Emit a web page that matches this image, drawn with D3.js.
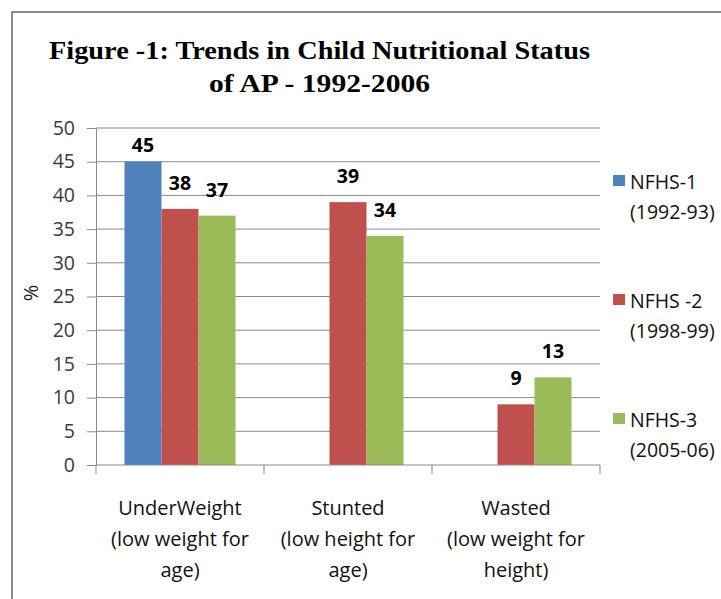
<!DOCTYPE html>
<html>
<head>
<meta charset="utf-8">
<script src="https://cdn.jsdelivr.net/npm/d3@7"></script>
<style>
  html, body { margin: 0; padding: 0; background: #fff; }
  svg { display: block; }
</style>
</head>
<body>
<svg id="chart" width="721" height="599"></svg>
<script>
// ---- data ----
const categories = ["UnderWeight", "Stunted", "Wasted"];
const categoryLabels = [
  ["UnderWeight", "(low weight for", "age)"],
  ["Stunted", "(low height for", "age)"],
  ["Wasted", "(low weight for", "height)"]
];
const seriesNames = ["NFHS-1", "NFHS-2", "NFHS-3"];
const seriesLegend = [
  ["NFHS-1", "(1992-93)"],
  ["NFHS -2", "(1998-99)"],
  ["NFHS-3", "(2005-06)"]
];
const nfhs1 = [45, null, null];
const nfhs2 = [38, 39, 9];
const nfhs3 = [37, 34, 13];
const yTicks = [0, 5, 10, 15, 20, 25, 30, 35, 40, 45, 50];
const titleLines = ["Figure -1: Trends in Child Nutritional Status", "of AP - 1992-2006"];
const yLabel = "%";

// ---- styles / layout ----
const colors = ["#4F81BD", "#C0504D", "#9BBB59"];
const plot = { left: 96, right: 600, top: 128, bottom: 465 };
const gridColor = "#8a8a8a";
const sans = "'Open Sans', 'Noto Sans', sans-serif";

const svg = d3.select("#chart");

// outer frame
svg.append("rect")
  .attr("x", 12).attr("y", 12)
  .attr("width", 740).attr("height", 620)
  .attr("fill", "none").attr("stroke", "#8c8c8c").attr("stroke-width", 2);

// title
const titleSpec = [
  { x: 49, y: 59, len: 541 },
  { x: 209, y: 92, len: 221 }
];
titleLines.forEach((t, i) => {
  svg.append("text")
    .attr("x", titleSpec[i].x).attr("y", titleSpec[i].y)
    .attr("textLength", titleSpec[i].len)
    .attr("lengthAdjust", "spacingAndGlyphs")
    .attr("font-family", "'Liberation Serif', 'DejaVu Serif', serif")
    .attr("font-weight", "bold")
    .attr("font-size", 25)
    .attr("fill", "#000")
    .text(t);
});

// scales
const y = d3.scaleLinear().domain([0, 50]).range([plot.bottom, plot.top]);
const x0 = d3.scaleBand().domain(categories).range([plot.left, plot.right]).padding(0);
const x1 = d3.scaleBand().domain(seriesNames).range([0, x0.bandwidth()])
  .paddingInner(0).paddingOuter(0.77);

// gridlines
svg.append("g")
  .selectAll("line")
  .data(yTicks.filter(d => d > 0))
  .join("line")
  .attr("x1", plot.left).attr("x2", plot.right)
  .attr("y1", d => y(d)).attr("y2", d => y(d))
  .attr("stroke", gridColor).attr("stroke-width", 1);

// y axis
const yAxis = svg.append("g")
  .attr("transform", `translate(${plot.left},0)`)
  .call(d3.axisLeft(y).tickValues(yTicks).tickSize(9).tickSizeOuter(0).tickPadding(12));
yAxis.select(".domain").attr("stroke", gridColor);
yAxis.selectAll(".tick line").attr("stroke", gridColor);
yAxis.selectAll(".tick text")
  .attr("font-family", sans)
  .attr("font-size", 19.5)
  .attr("fill", "#3a3a3a");

// y label
svg.append("text")
  .attr("transform", `translate(38,293) rotate(-90)`)
  .attr("text-anchor", "middle")
  .attr("font-family", sans)
  .attr("font-size", 20)
  .attr("fill", "#222")
  .text(yLabel);

// bars
const seriesValues = [nfhs1, nfhs2, nfhs3];
const barData = [];
categories.forEach((c, ci) => {
  seriesNames.forEach((s, si) => {
    const v = seriesValues[si][ci];
    if (v !== null && v !== undefined) barData.push({ c, s, si, v });
  });
});

svg.append("g")
  .selectAll("rect")
  .data(barData)
  .join("rect")
  .attr("x", d => x0(d.c) + x1(d.s))
  .attr("y", d => y(d.v))
  .attr("width", x1.bandwidth())
  .attr("height", d => y(0) - y(d.v))
  .attr("fill", d => colors[d.si]);

// x axis line + boundary ticks
svg.append("line")
  .attr("x1", plot.left).attr("x2", plot.right)
  .attr("y1", plot.bottom).attr("y2", plot.bottom)
  .attr("stroke", gridColor).attr("stroke-width", 1);
const boundaries = categories.map(c => x0(c)).concat([x0(categories[categories.length - 1]) + x0.bandwidth()]);
svg.append("g")
  .selectAll("line")
  .data(boundaries)
  .join("line")
  .attr("x1", d => d).attr("x2", d => d)
  .attr("y1", plot.bottom).attr("y2", plot.bottom + 9)
  .attr("stroke", gridColor).attr("stroke-width", 1);

// x category labels
const xl = svg.append("g");
categories.forEach((c, ci) => {
  const t = xl.append("text")
    .attr("text-anchor", "middle")
    .attr("font-family", sans)
    .attr("font-size", 20)
    .attr("fill", "#111");
  categoryLabels[ci].forEach((line, li) => {
    t.append("tspan")
      .attr("x", x0(c) + x0.bandwidth() / 2)
      .attr("y", 515 + li * 31)
      .text(line);
  });
});

// data labels
svg.append("g")
  .selectAll("text")
  .data(barData)
  .join("text")
  .attr("x", d => x0(d.c) + x1(d.s) + x1.bandwidth() / 2)
  .attr("y", d => Math.max(y(d.v) - 19, plot.top + 24))
  .attr("text-anchor", "middle")
  .attr("font-family", sans)
  .attr("font-weight", "bold")
  .attr("font-size", 19.5)
  .attr("fill", "#000")
  .text(d => d.v);

// legend
const legend = svg.append("g");
seriesLegend.forEach((lines, i) => {
  const top = 175 + i * 119;
  legend.append("rect")
    .attr("x", 613).attr("y", top)
    .attr("width", 12).attr("height", 11)
    .attr("fill", colors[i]);
  lines.forEach((ln, li) => {
    legend.append("text")
      .attr("x", 630).attr("y", top + 14 + li * 30)
      .attr("font-family", sans)
      .attr("font-size", 19.5)
      .attr("fill", "#111")
      .text(ln);
  });
});
</script>
</body>
</html>
